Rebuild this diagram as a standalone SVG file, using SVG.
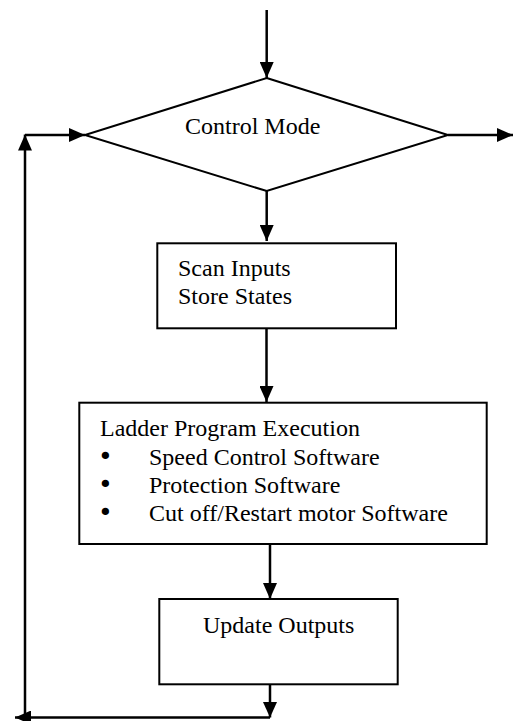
<svg xmlns="http://www.w3.org/2000/svg" width="518" height="721" viewBox="0 0 518 721">
<style>
.shape{fill:#fff;stroke:#000;stroke-width:2}
.conn{fill:none;stroke:#000;stroke-width:2.5}
text{font-family:"Liberation Serif","Times New Roman",serif;font-size:24px;fill:#000}
.bullet{font-family:"DejaVu Sans",sans-serif;font-size:25px}
</style>
<defs>
<marker id="ah" markerUnits="userSpaceOnUse" markerWidth="16" markerHeight="14" refX="16" refY="7" orient="auto" viewBox="0 0 16 14">
<path d="M0,0 L16,7 L0,14 z" fill="#000"/>
</marker>
</defs>
<rect width="518" height="721" fill="#fff"/>
<g id="connectors">
<path class="conn" d="M266.7,10 V78" marker-end="url(#ah)"/>
<path class="conn" d="M448,135 H513" marker-end="url(#ah)"/>
<path class="conn" d="M266.7,191 V241" marker-end="url(#ah)"/>
<path class="conn" d="M266.5,328 V402" marker-end="url(#ah)"/>
<path class="conn" d="M270,544 V599" marker-end="url(#ah)"/>
<path class="conn" d="M270,684 V717.5"/>
<path d="M263,702 L270,717.5 L277,702 z" fill="#000"/>
<path class="conn" d="M270,717.5 H15" marker-end="url(#ah)"/>
<path class="conn" d="M25,717.5 V134.5" marker-end="url(#ah)"/>
<path class="conn" d="M25,135 H85" marker-end="url(#ah)"/>
</g>
<g id="control-mode">
<polygon class="shape" points="266.7,78 448,135 266.7,191 85,135"/>
<text x="185" y="134">Control Mode</text>
</g>
<g id="scan-inputs">
<rect class="shape" x="157.3" y="243.3" width="238.7" height="85"/>
<text x="178" y="276">Scan Inputs</text>
<text x="178" y="304">Store States</text>
</g>
<g id="ladder-program">
<rect class="shape" x="79.3" y="402.7" width="407.4" height="141.3"/>
<text x="100" y="436">Ladder Program Execution</text>
<text class="bullet" x="98" y="465">•</text>
<text x="149" y="465">Speed Control Software</text>
<text class="bullet" x="98" y="493">•</text>
<text x="149" y="493">Protection Software</text>
<text class="bullet" x="98" y="521">•</text>
<text x="149" y="521">Cut off/Restart motor Software</text>
</g>
<g id="update-outputs">
<rect class="shape" x="159.3" y="599" width="238.4" height="85.3"/>
<text x="203" y="633">Update Outputs</text>
</g>
</svg>
